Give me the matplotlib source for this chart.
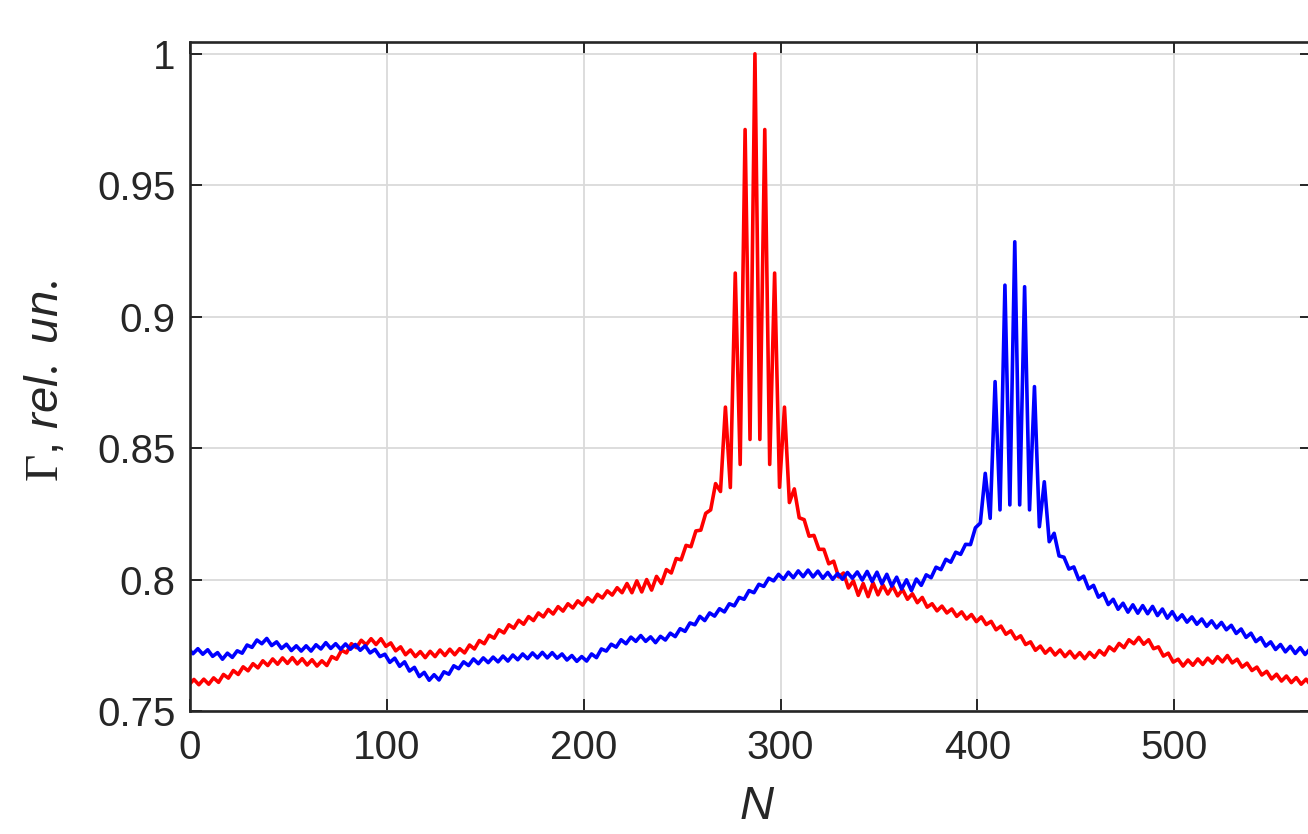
import numpy as np
import matplotlib
matplotlib.use('Agg')
import matplotlib.pyplot as plt

plt.rcParams['font.family'] = ['Liberation Sans', 'DejaVu Sans']
plt.rcParams['mathtext.fontset'] = 'custom'
plt.rcParams['mathtext.rm'] = 'Liberation Serif'
plt.rcParams['mathtext.it'] = 'Liberation Sans:italic'

# N sampling (half period of the small ripple)
n_red = np.arange(-0.5, 572.5, 2.5)
n_blue = np.arange(-1.0, 572.0, 2.5)

gamma_red = [
    0.7600, 0.7620, 0.7600, 0.7621, 0.7602, 0.7626, 0.7609, 0.7639, 0.7625, 0.7654,
    0.7639, 0.7668, 0.7653, 0.7680, 0.7664, 0.7691, 0.7673, 0.7698, 0.7678, 0.7702,
    0.7681, 0.7703, 0.7679, 0.7699, 0.7675, 0.7695, 0.7671, 0.7691, 0.7673, 0.7707,
    0.7697, 0.7731, 0.7721, 0.7756, 0.7741, 0.7769, 0.7752, 0.7775, 0.7753, 0.7775,
    0.7746, 0.7759, 0.7729, 0.7744, 0.7714, 0.7732, 0.7707, 0.7726, 0.7703, 0.7727,
    0.7707, 0.7732, 0.7711, 0.7735, 0.7714, 0.7737, 0.7721, 0.7751, 0.7736, 0.7768,
    0.7756, 0.7788, 0.7777, 0.7809, 0.7797, 0.7828, 0.7815, 0.7845, 0.7830, 0.7859,
    0.7844, 0.7873, 0.7858, 0.7886, 0.7869, 0.7897, 0.7880, 0.7908, 0.7892, 0.7919,
    0.7903, 0.7931, 0.7915, 0.7944, 0.7930, 0.7957, 0.7941, 0.7969, 0.7950, 0.7985,
    0.7950, 0.7995, 0.7953, 0.8000, 0.7960, 0.8012, 0.7985, 0.8038, 0.8025, 0.8080,
    0.8075, 0.8130, 0.8125, 0.8185, 0.8188, 0.8252, 0.8265, 0.8365, 0.8335, 0.8656,
    0.8350, 0.9166, 0.8438, 0.9712, 0.8533, 1.0000, 0.8533, 0.9712, 0.8438, 0.9166,
    0.8351, 0.8656, 0.8293, 0.8345, 0.8235, 0.8228, 0.8165, 0.8168, 0.8115, 0.8115,
    0.8060, 0.8070, 0.8010, 0.8025, 0.7968, 0.7995, 0.7940, 0.7985, 0.7935, 0.7988,
    0.7942, 0.7980, 0.7945, 0.7975, 0.7938, 0.7962, 0.7925, 0.7946, 0.7912, 0.7932,
    0.7895, 0.7908, 0.7881, 0.7899, 0.7873, 0.7888, 0.7860, 0.7877, 0.7850, 0.7867,
    0.7840, 0.7858, 0.7829, 0.7841, 0.7809, 0.7823, 0.7792, 0.7805, 0.7774, 0.7786,
    0.7753, 0.7763, 0.7731, 0.7747, 0.7720, 0.7738, 0.7713, 0.7732, 0.7707, 0.7727,
    0.7702, 0.7722, 0.7699, 0.7723, 0.7704, 0.7730, 0.7713, 0.7744, 0.7729, 0.7757,
    0.7741, 0.7771, 0.7756, 0.7780, 0.7754, 0.7771, 0.7737, 0.7744, 0.7709, 0.7720,
    0.7686, 0.7697, 0.7671, 0.7694, 0.7674, 0.7698, 0.7677, 0.7701, 0.7682, 0.7707,
    0.7687, 0.7711, 0.7683, 0.7697, 0.7667, 0.7682, 0.7654, 0.7667, 0.7637, 0.7651,
    0.7622, 0.7640, 0.7614, 0.7633, 0.7608, 0.7627, 0.7602, 0.7621, 0.7597, 0.7618,
]

gamma_blue = [
    0.7738, 0.7718, 0.7737, 0.7716, 0.7733, 0.7708, 0.7722, 0.7697, 0.7720, 0.7704,
    0.7729, 0.7720, 0.7751, 0.7742, 0.7770, 0.7756, 0.7776, 0.7749, 0.7763, 0.7738,
    0.7754, 0.7730, 0.7748, 0.7728, 0.7748, 0.7728, 0.7752, 0.7736, 0.7760, 0.7738,
    0.7756, 0.7735, 0.7755, 0.7735, 0.7753, 0.7731, 0.7748, 0.7721, 0.7734, 0.7707,
    0.7716, 0.7685, 0.7701, 0.7670, 0.7687, 0.7652, 0.7666, 0.7631, 0.7647, 0.7617,
    0.7638, 0.7618, 0.7649, 0.7640, 0.7672, 0.7661, 0.7687, 0.7673, 0.7698, 0.7680,
    0.7702, 0.7684, 0.7705, 0.7687, 0.7709, 0.7690, 0.7713, 0.7695, 0.7717, 0.7699,
    0.7721, 0.7702, 0.7723, 0.7702, 0.7722, 0.7701, 0.7717, 0.7694, 0.7711, 0.7689,
    0.7707, 0.7690, 0.7717, 0.7703, 0.7736, 0.7728, 0.7754, 0.7743, 0.7771, 0.7756,
    0.7781, 0.7765, 0.7787, 0.7765, 0.7782, 0.7760, 0.7784, 0.7770, 0.7796, 0.7783,
    0.7813, 0.7803, 0.7835, 0.7828, 0.7860, 0.7844, 0.7873, 0.7861, 0.7889, 0.7877,
    0.7908, 0.7900, 0.7932, 0.7925, 0.7958, 0.7950, 0.7982, 0.7974, 0.8005, 0.7995,
    0.8020, 0.8001, 0.8028, 0.8007, 0.8033, 0.8011, 0.8036, 0.8010, 0.8032, 0.8005,
    0.8027, 0.8001, 0.8023, 0.8001, 0.8027, 0.8005, 0.8029, 0.7998, 0.8031, 0.7993,
    0.8028, 0.7984, 0.8020, 0.7975, 0.8009, 0.7964, 0.7999, 0.7958, 0.8002, 0.7978,
    0.8018, 0.8007, 0.8047, 0.8038, 0.8077, 0.8066, 0.8104, 0.8096, 0.8134, 0.8133,
    0.8197, 0.8215, 0.8404, 0.8233, 0.8753, 0.8265, 0.9120, 0.8284, 0.9285, 0.8284,
    0.9114, 0.8265, 0.8734, 0.8201, 0.8372, 0.8144, 0.8176, 0.8090, 0.8085, 0.8040,
    0.8048, 0.8000, 0.8013, 0.7965, 0.7978, 0.7933, 0.7947, 0.7905, 0.7925, 0.7887,
    0.7910, 0.7876, 0.7904, 0.7872, 0.7901, 0.7870, 0.7898, 0.7863, 0.7888, 0.7853,
    0.7878, 0.7846, 0.7866, 0.7838, 0.7858, 0.7830, 0.7850, 0.7822, 0.7843, 0.7816,
    0.7837, 0.7809, 0.7826, 0.7795, 0.7812, 0.7780, 0.7796, 0.7764, 0.7779, 0.7747,
    0.7763, 0.7734, 0.7753, 0.7725, 0.7746, 0.7719, 0.7741, 0.7715, 0.7737, 0.7712,
]

x_ticks = [0, 100, 200, 300, 400, 500]
y_ticks = [0.75, 0.8, 0.85, 0.9, 0.95, 1.0]
y_ticklabels = ['0.75', '0.8', '0.85', '0.9', '0.95', '1']

dark = '#262626'

fig = plt.figure(figsize=(13.08, 8.34), dpi=100)
ax = fig.add_axes([190/1308, 123/834, 1122/1308, 669/834])

ax.plot(n_red, gamma_red, color='#ff0000', linewidth=2.6, solid_joinstyle='round')
ax.plot(n_blue, gamma_blue, color='#0000ff', linewidth=2.6, solid_joinstyle='round')

ax.set_xlim(0, 570)
ax.set_ylim(0.75, 1.0045)
ax.set_xticks(x_ticks)
ax.set_yticks(y_ticks)
ax.set_yticklabels(y_ticklabels)

ax.grid(True, color='#dadada', linewidth=1.3)
ax.set_axisbelow(True)
for s in ax.spines.values():
    s.set_color(dark)
    s.set_linewidth(1.9)

ax.tick_params(direction='in', length=8.5, width=1.4, color=dark,
               labelcolor=dark, labelsize=29, top=True, right=True)
ax.tick_params(axis='x', pad=13)
ax.tick_params(axis='y', pad=10.5)

ax.set_xlabel('N', fontsize=34, style='italic', color=dark)
ax.set_ylabel(r'$\mathrm{\Gamma}$, $\mathit{rel.\ un.}$', fontsize=34, color=dark)
ax.xaxis.set_label_coords(0.505, -0.11)
ax.yaxis.set_label_coords(-0.109, 0.494)

plt.savefig('out.png', dpi=100, facecolor='white')
